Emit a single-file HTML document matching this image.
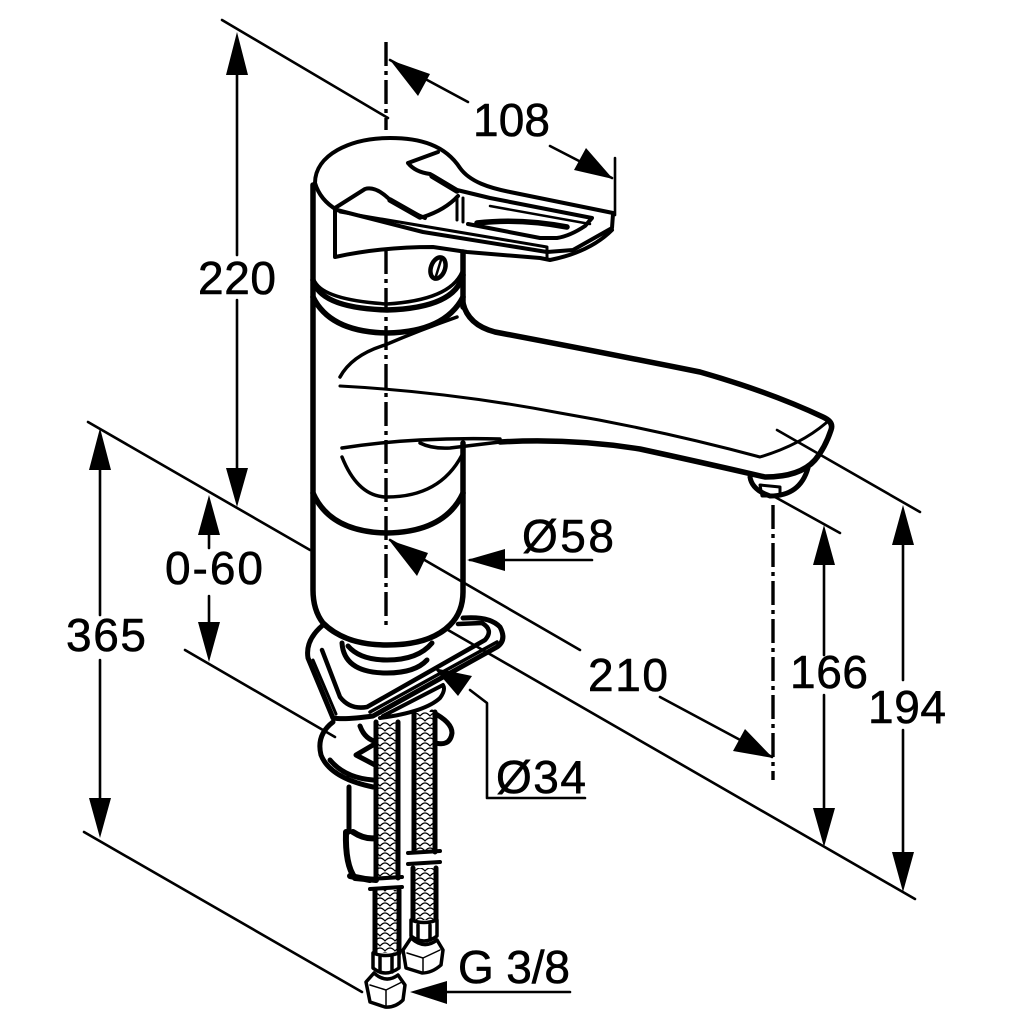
<!DOCTYPE html>
<html><head><meta charset="utf-8"><style>html,body{margin:0;padding:0;background:#fff}svg{display:block}text{font-family:"Liberation Sans",sans-serif;font-size:46px;fill:#000;stroke:#000;stroke-width:.6px}</style></head><body>
<svg width="1032" height="1032" viewBox="0 0 1032 1032" fill="none" stroke="#000" stroke-linecap="round" stroke-linejoin="round">
<defs><pattern id="h" width="10" height="10" patternUnits="userSpaceOnUse"><rect width="10" height="10" fill="#fff" stroke="none"/><path d="M0 6Q5 0 10 6M-5 1Q0 -5 5 1M5 1Q10 -5 15 1M-5 11Q0 5 5 11M5 11Q10 5 15 11" stroke-width="1.2"/></pattern></defs>

<!-- extension lines -->
<g stroke-width="2.6">
<path d="M222 20L388 118M88 422L310 550M448 630L915 899M185 650L335 737M84 832L362 992M777 430L920 512M775 497L840 533M615 158V215"/>
<path d="M237 72V255M237 300V470M100 468V615M100 660V800M209 532V548M209 596V622M824 562V655M824 695V808M903 543V680M903 730V852M390 60L468 102M550 146L612 178M390 540L580 650M660 697L772 757M470 560H592M470 690L487 703V798H585M447 992H570"/>
<path d="M386 42V130M386 250V630M773 505V780" stroke-width="3.4" stroke-dasharray="24 5 4 5" stroke-linecap="butt"/>
</g>
<!-- arrowheads -->
<g fill="#000" stroke="none">
<path d="M237 32L226 75H248ZM237 507L226 468H248ZM100 428L89 470H111ZM100 838L89 798H111ZM209 495L198 535H220ZM209 662L198 622H220ZM824 525L813 565H835ZM824 847L813 808H835ZM903 505L892 545H914ZM903 892L892 852H914Z"/>
<path d="M390 60L418 96L430 74ZM613 179L574 170L586 148ZM389 540L417 576L428 553ZM773 758L733 751L745 729ZM467 560L505 549V571ZM434 668L458 696L472 676ZM410 992L447 981V1004Z"/>
</g>

<!-- faucet body -->
<g stroke-width="5.5">
<path d="M313 185V590Q313 610 323 623Q345 645 387 645Q430 645 450 625Q463 612 463 592V443M463 307V252"/>
<path d="M313 280Q320 308 387 310Q455 308 463 275M313 297Q330 332 387 333Q445 332 463 297M313 493Q330 532 387 533Q445 532 463 493"/>
<path d="M463 303Q468 325 495 332Q600 352 700 372Q770 392 823 417Q834 422 831 430Q825 448 815 460Q800 477 765 477Q700 462 640 449Q570 438 500 442"/>
</g>
<g stroke-width="3.5">
<path d="M315 282Q325 300 387 304Q450 300 462 272"/>
<path d="M340 386Q450 392 560 413Q660 430 760 457Q800 445 826 423" stroke-width="3"/>
<path d="M340 377Q352 355 385 345Q420 330 457 317"/>
<path d="M342 448Q380 442 420 440Q460 438 500 439M420 443Q432 449 450 448L500 442"/>
<path d="M342 457Q358 497 387 497Q440 497 462 455"/>
</g>
<!-- aerator -->
<path d="M750 477Q752 490 770 496Q800 496 808 468" stroke-width="5"/>
<path d="M760 485L780 487V496H762Z" stroke-width="3"/>

<!-- handle -->
<g stroke-width="4">
<path d="M315 183C315 155 350 138 390 138C420 138 445 145 460 168C470 182 490 188 510 192L613 213"/>
<path d="M315 183Q320 200 337 210L423 232L547 252L573 250L612 228L613 214"/>
<path d="M335 208V257Q380 247 433 247L467 252L540 258L550 260Q590 252 612 230"/>
<path d="M335 208L365 189Q375 186 388 198Q400 208 425 218M423 217Q445 210 458 196"/>
<path d="M408 163L438 152M408 163Q415 172 430 174L457 190L490 198L592 218L585 226Q570 236 557 238L540 238L468 224"/>
<path d="M477 223Q520 218 567 227" stroke-width="5.5"/>
<path d="M340 212L547 247M457 197V220M463 198V222M547 248V258" stroke-width="3"/>
<path d="M490 206L590 224" stroke-width="2.5"/>
<path d="M390 200L420 217M432 176L457 191" stroke-width="5.5"/>
</g>
<ellipse cx="438" cy="268" rx="7" ry="11" transform="rotate(20 438 268)" stroke-width="4.5"/>
<path d="M436 276L441 260" stroke-width="2.5"/>

<!-- base plate -->
<g stroke-width="4.5">
<path d="M323 625Q305 640 308 658L333 718Q345 720 373 716L497 647Q507 640 500 627Q490 616 463 618" stroke-width="5"/>
<path d="M322 650L340 697Q350 710 367 707L485 640Q494 630 482 623L458 624"/>
<path d="M313 660L336 714" stroke-width="3"/>
<path d="M370 712L497 642" stroke-width="3.5"/>
<path d="M342 643Q344 673 387 673Q415 673 427 660M348 646Q360 660 387 660Q418 660 432 643" stroke-width="5"/>
<path d="M380 718Q425 712 440 698Q446 690 443 685L383 716" stroke-width="4"/>
<path d="M333 722Q316 735 321 755Q330 778 373 787M330 760Q345 778 373 780M373 745L356 755L375 765M360 726Q365 740 378 742M432 712Q452 722 452 733Q450 748 432 742" stroke-width="5"/>
<path d="M349 787V832" stroke-width="5"/>
<path d="M346 832Q345 865 355 878L376 880M353 832Q365 840 377 838M350 876L370 880" stroke-width="6"/>
</g>

<!-- hoses -->
<g stroke-width="5">
<rect x="377" y="722" width="20" height="156" fill="url(#h)" stroke="none"/>
<rect x="415" y="712" width="19" height="140" fill="url(#h)" stroke="none"/>
<rect x="376" y="890" width="21" height="63" fill="url(#h)" stroke="none"/>
<rect x="414" y="868" width="20" height="52" fill="url(#h)" stroke="none"/>
<path d="M376 722V878M398 722V878M414 712V852M435 712V852M375 890V953M399 890V953M413 868V920M436 868V920"/>
<path d="M370 879L402 877M370 889L402 887M408 853L440 851M408 864L440 862" stroke-width="4"/>
<path d="M373 953V968Q385 978 399 968V953Q385 958 373 953M380 957V972M392 957V972" fill="#fff" stroke-width="3.5"/>
<path d="M411 920V936Q424 946 437 936V920Q424 925 411 920M418 925V940M430 925V940" fill="#fff" stroke-width="3.5"/>
<path d="M366 982L374 973Q386 984 398 975L405 985L403 1000Q395 1008 385 1007L370 1002Z" fill="#fff" stroke-width="3.5"/>
<path d="M370 985L386 990L402 982M386 990V1006" stroke-width="1.5"/>
<path d="M403 950L411 938Q424 950 437 940L443 950L441 965Q432 973 422 973L406 968Z" fill="#fff" stroke-width="3.5"/>
<path d="M407 953L423 958L440 950M423 958V972" stroke-width="1.5"/>
</g>

<!-- labels -->
<g stroke="none">
<text x="473" y="136" textLength="77">108</text>
<text x="198" y="294" textLength="78">220</text>
<text x="165" y="584" textLength="98" lengthAdjust="spacing">0-60</text>
<text x="66" y="651" textLength="80">365</text>
<text x="522" y="552" textLength="92">Ø58</text>
<text x="588" y="691" textLength="80">210</text>
<text x="790" y="688" textLength="78">166</text>
<text x="868" y="723" textLength="78">194</text>
<text x="496" y="793" textLength="90">Ø34</text>
<text x="458" y="983" textLength="112">G 3/8</text>
</g>
</svg>
</body></html>
